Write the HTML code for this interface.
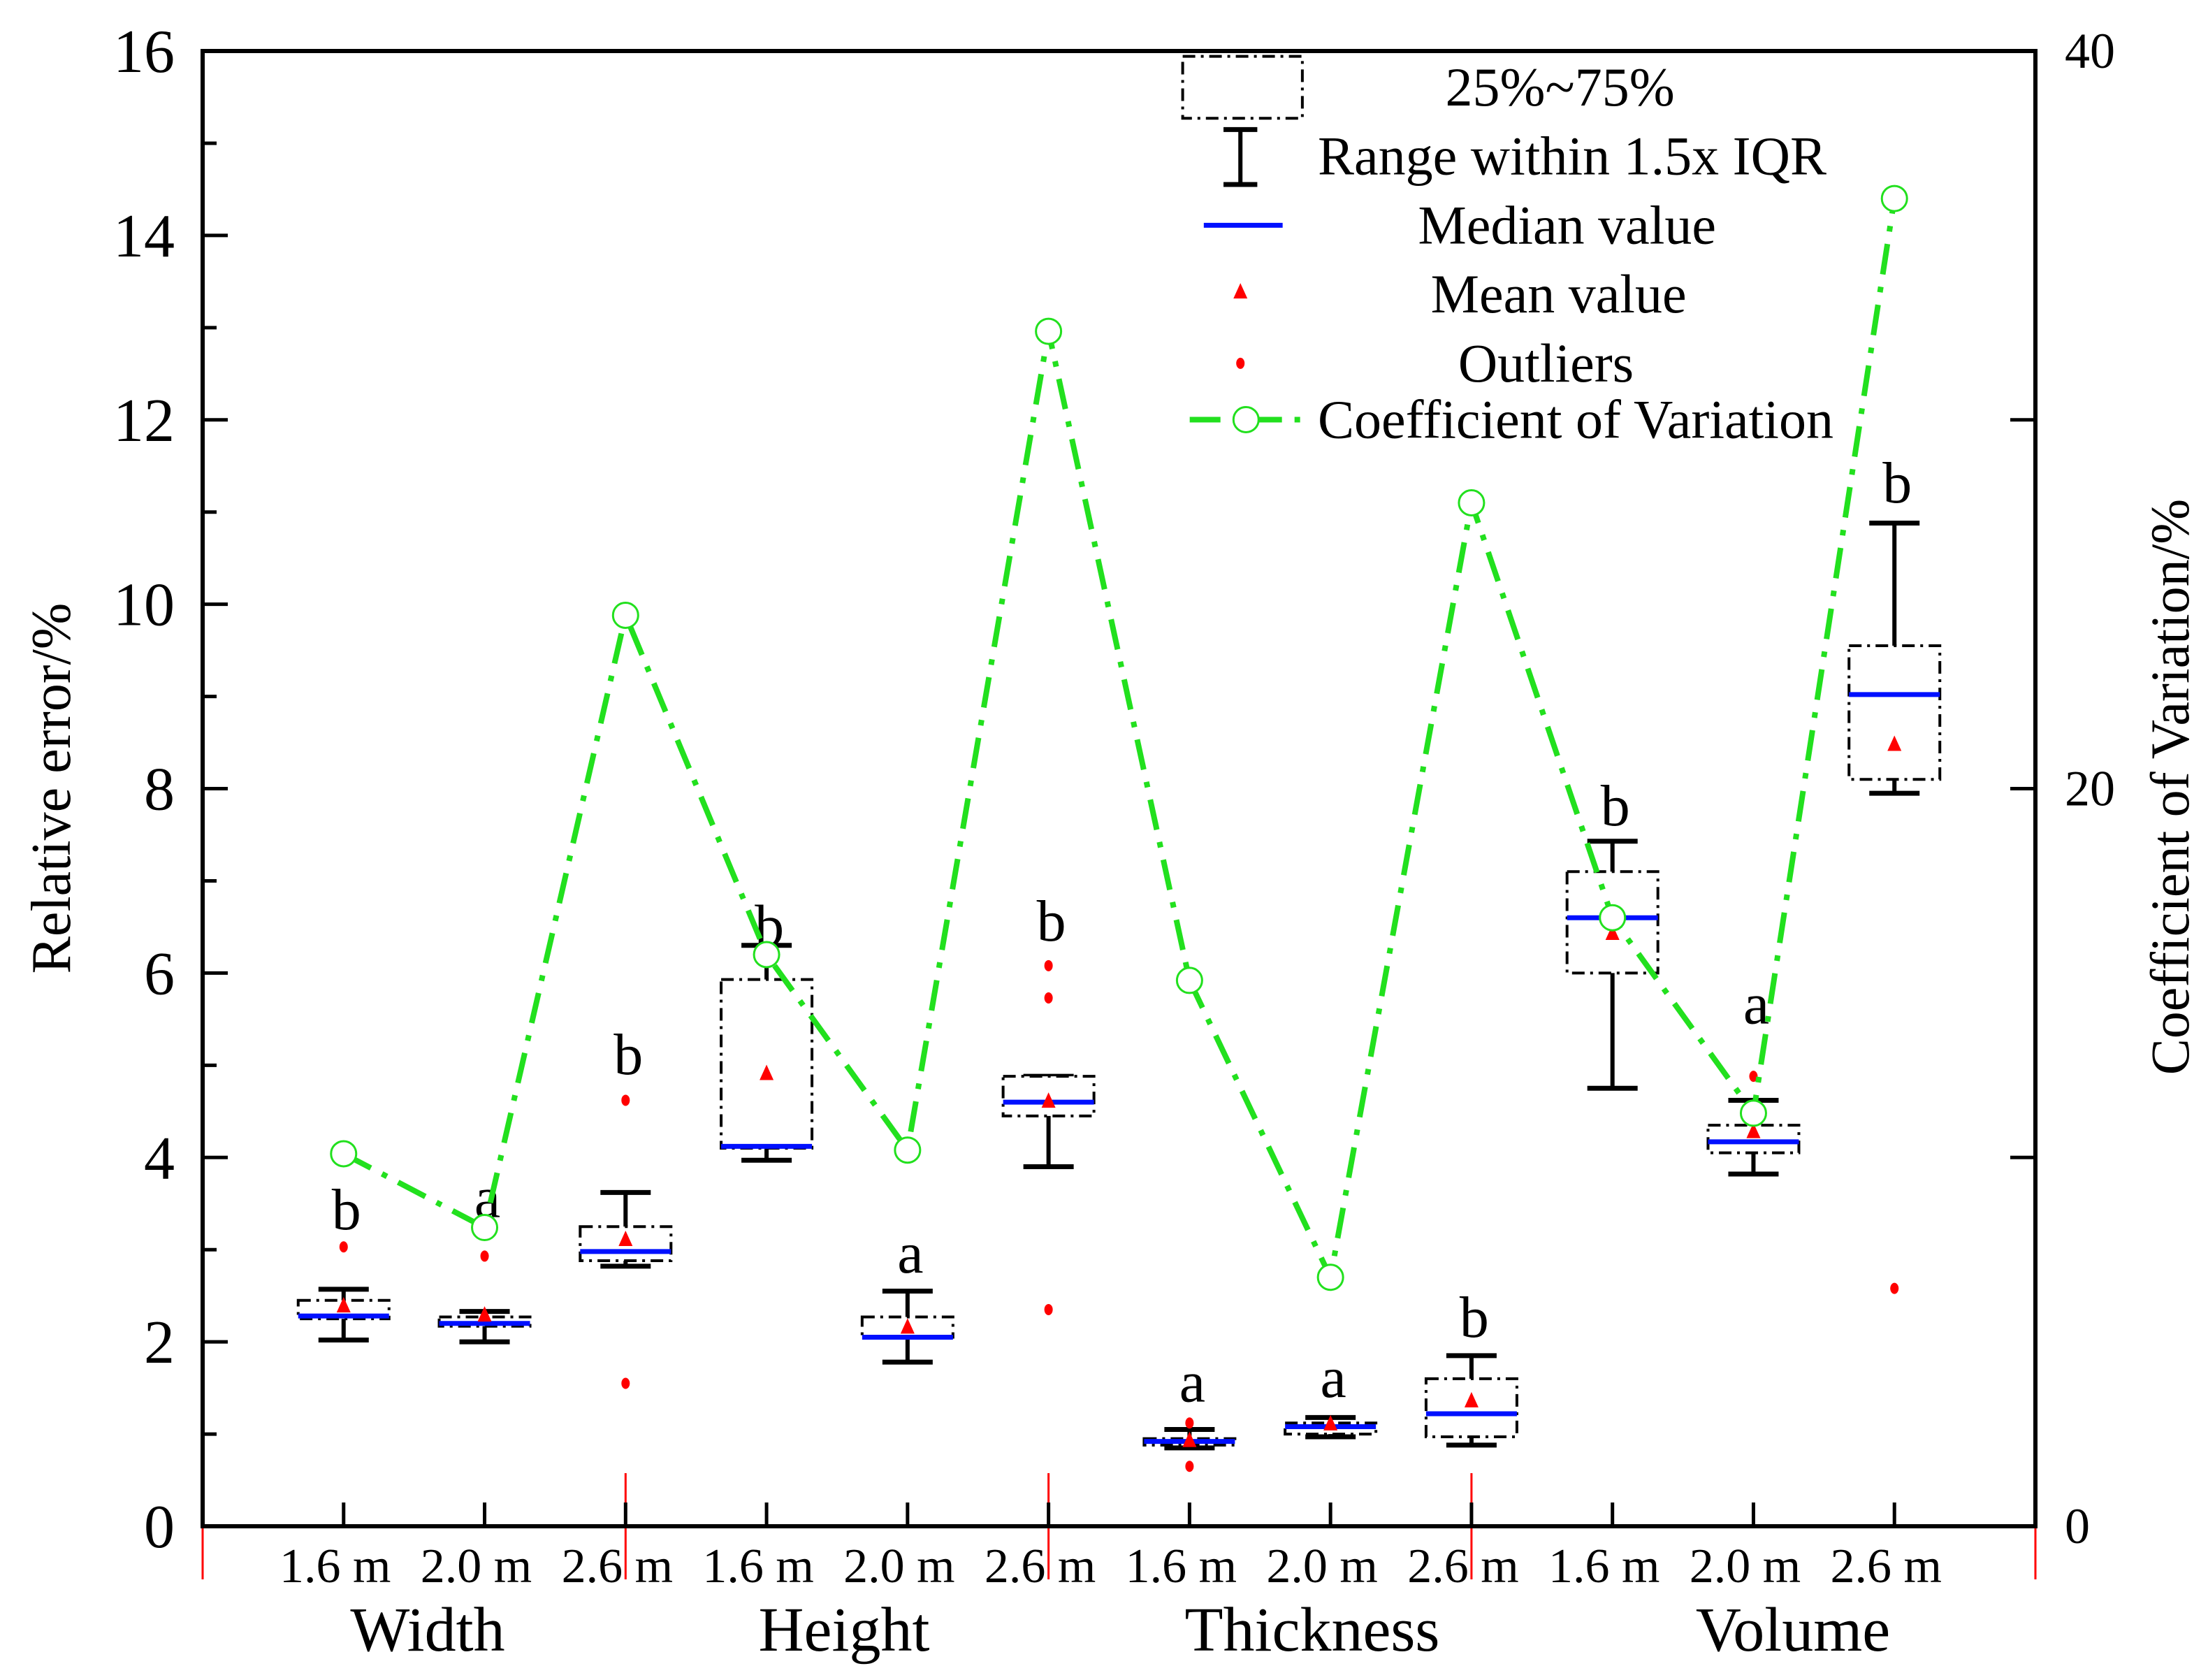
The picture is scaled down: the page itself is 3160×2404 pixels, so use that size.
<!DOCTYPE html>
<html><head><meta charset="utf-8"><style>
html,body{margin:0;padding:0;background:#fff}
svg{display:block}
text{font-family:"Liberation Serif",serif;fill:#000}
</style></head><body>
<svg id="chart" width="3160" height="2404" viewBox="0 0 3160 2404" xmlns="http://www.w3.org/2000/svg">
<g id="plot"></g>
</svg>
<script>
const categories=["1.6 m","2.0 m","2.6 m","1.6 m","2.0 m","2.6 m","1.6 m","2.0 m","2.6 m","1.6 m","2.0 m","2.6 m"];
const groups=["Width","Height","Thickness","Volume"];
const whiskerLow=[2.02,2.0,2.82,3.97,1.78,3.9,0.85,0.97,0.88,4.75,3.82,7.95];
const whiskerHigh=[2.57,2.33,3.62,6.3,2.55,4.88,1.05,1.18,1.85,7.43,4.62,10.88];
const q1=[2.25,2.17,2.88,4.1,2.05,4.45,0.88,1.0,0.97,6.0,4.05,8.1];
const q3=[2.45,2.27,3.25,5.93,2.27,4.88,0.95,1.12,1.6,7.1,4.35,9.55];
const medians=[2.28,2.2,2.98,4.12,2.05,4.6,0.92,1.08,1.22,6.6,4.17,9.02];
const means=[2.38,2.28,3.1,4.9,2.15,4.6,0.92,1.1,1.35,6.42,4.27,8.47];
const outliers=[[3.03],[2.93],[4.62,1.55],[],[],[6.08,5.73,2.35],[1.12,0.65],[],[],[],[4.88],[2.58]];
const cv=[10.1,8.1,24.7,15.5,10.2,32.4,14.8,6.75,27.75,16.5,11.2,36.0];
const letters=["b","a","b","b","a","b","a","a","b","b","a","b"];
const letterY=[3.42,3.55,5.1,6.5,2.95,6.55,1.55,1.6,2.25,7.8,5.65,11.3];
const leftTicks=[0,2,4,6,8,10,12,14,16];
const rightTicks=[0,20,40];

const L=290,R=2913,T=73,B=2184;
const NS="http://www.w3.org/2000/svg";
const g=document.getElementById('plot');
const y=v=>B-(v/16)*(B-T);
const y2=v=>B-(v/40)*(B-T);
const step=(R-L)/13;
const x=i=>L+step*(i+1);
function el(t,a,txt){const e=document.createElementNS(NS,t);for(const k in a)e.setAttribute(k,a[k]);if(txt!==undefined)e.textContent=txt;g.appendChild(e);return e;}

[L,x(2),x(5),x(8),R].forEach((sx,k)=>{
  const e=el('line',{x1:sx,x2:sx,y1:(k==0||k==4)?B:2108,y2:2260,stroke:'#f00','stroke-width':3});
  
  
});

const frame=el('rect',{x:L,y:T,width:R-L,height:B-T,fill:'none',stroke:'#000','stroke-width':6});



for(let v=0;v<=16;v++){
  const len=v%2==0?36:20;
  const t=el('line',{x1:L,x2:L+len,y1:y(v),y2:y(v),stroke:'#000','stroke-width':5});
  
  
}
leftTicks.forEach(v=>{
  const t=el('text',{x:L-40,y:y(v)+30,'font-size':88,'text-anchor':'end'},String(v));
  
  
});
[0,10,20,30,40].forEach(v=>{
  const t=el('line',{x1:R,x2:R-36,y1:y2(v),y2:y2(v),stroke:'#000','stroke-width':5});
  
  
});
rightTicks.forEach(v=>{
  const t=el('text',{x:R+42,y:y2(v)+24,'font-size':72},String(v));
  
  
});
categories.forEach((c,i)=>{
  const t=el('line',{x1:x(i),x2:x(i),y1:B,y2:B-34,stroke:'#000','stroke-width':5});
  
  
  const l=el('text',{x:x(i)-12,y:2264,'font-size':70,'text-anchor':'middle'},c);
  
  
});
const gx=[612,1208,1878,2566];
groups.forEach((s,k)=>{
  const t=el('text',{x:gx[k],y:2362,'font-size':90,'text-anchor':'middle'},s);
  
  
});
let at=el('text',{x:0,y:0,'font-size':80,'text-anchor':'middle',transform:'translate(100,1128) rotate(-90)'},'Relative error/%');


at=el('text',{x:0,y:0,'font-size':78,'text-anchor':'middle',transform:'translate(3132,1126) rotate(-90)'},'Coefficient of Variation/%');



const bw=130,cw=72;
categories.forEach((c,i)=>{
  const cx=x(i);
  const w=el('line',{x1:cx,x2:cx,y1:y(whiskerLow[i]),y2:y(whiskerHigh[i]),stroke:'#000','stroke-width':6});
  
  
  [whiskerLow[i],whiskerHigh[i]].forEach(v=>{
    const cap=el('line',{x1:cx-cw/2,x2:cx+cw/2,y1:y(v),y2:y(v),stroke:'#000','stroke-width':7});
    
    
  });
  const b=el('rect',{x:cx-bw/2,y:y(q3[i]),width:bw,height:y(q1[i])-y(q3[i]),fill:'#fff',stroke:'#000','stroke-width':4,'stroke-dasharray':'18 8 4 8'});
  
  
  const m=el('line',{x1:cx-bw/2,x2:cx+bw/2,y1:y(medians[i]),y2:y(medians[i]),stroke:'#0010ff','stroke-width':7});
  
  
  const my=y(means[i]);
  const tr=el('polygon',{points:`${cx},${my-14} ${cx-10},${my+8} ${cx+10},${my+8}`,fill:'#f00'});
  
  
  outliers[i].forEach(v=>{
    const o=el('ellipse',{cx:cx,cy:y(v),rx:6,ry:8,fill:'#f00'});
    
    
  });
  const lt=el('text',{x:cx+4,y:y(letterY[i])+26,'font-size':84,'text-anchor':'middle'},letters[i]);
  
  
});

const pts=cv.map((v,i)=>`${x(i)},${y2(v)}`).join(' ');
const pl=el('polyline',{points:pts,fill:'none',stroke:'#22e01e','stroke-width':8,'stroke-dasharray':'44 18 8 18'});


cv.forEach((v,i)=>{
  const c=el('circle',{cx:x(i),cy:y2(v),r:18,fill:'#fff',stroke:'#22e01e','stroke-width':3});
  
  
});

const s=2.015;
let e=el('rect',{x:840*s,y:40*s,width:85*s,height:44*s,fill:'#fff',stroke:'#000','stroke-width':4,'stroke-dasharray':'18 8 4 8'});


e=el('line',{x1:881*s,x2:881*s,y1:92*s,y2:131*s,stroke:'#000','stroke-width':6});


[92,131].forEach(v=>{const c=el('line',{x1:869*s,x2:893*s,y1:v*s,y2:v*s,stroke:'#000','stroke-width':7});

});
e=el('line',{x1:855*s,x2:911*s,y1:160*s,y2:160*s,stroke:'#0010ff','stroke-width':7});


e=el('polygon',{points:`${881*s},${208*s-14} ${881*s-10},${208*s+8} ${881*s+10},${208*s+8}`,fill:'#f00'});


e=el('ellipse',{cx:881*s,cy:258*s,rx:6,ry:8,fill:'#f00'});


e=el('line',{x1:845*s,x2:925*s,y1:298*s,y2:298*s,stroke:'#22e01e','stroke-width':8,'stroke-dasharray':'44 18 8 18'});


e=el('circle',{cx:885*s,cy:298*s,r:18,fill:'#fff',stroke:'#22e01e','stroke-width':3});


const legTxt=[["25%~75%",1108,62,'middle'],["Range within 1.5x IQR",936,111,'start'],["Median value",1113,160,'middle'],["Mean value",1107,209,'middle'],["Outliers",1098,258,'middle'],["Coefficient of Variation",936,298,'start']];
legTxt.forEach(t=>{
  const tx=el('text',{x:t[1]*s,y:t[2]*s+26,'font-size':78,'text-anchor':t[3]},t[0]);
  
  
});
</script>
</body></html>
